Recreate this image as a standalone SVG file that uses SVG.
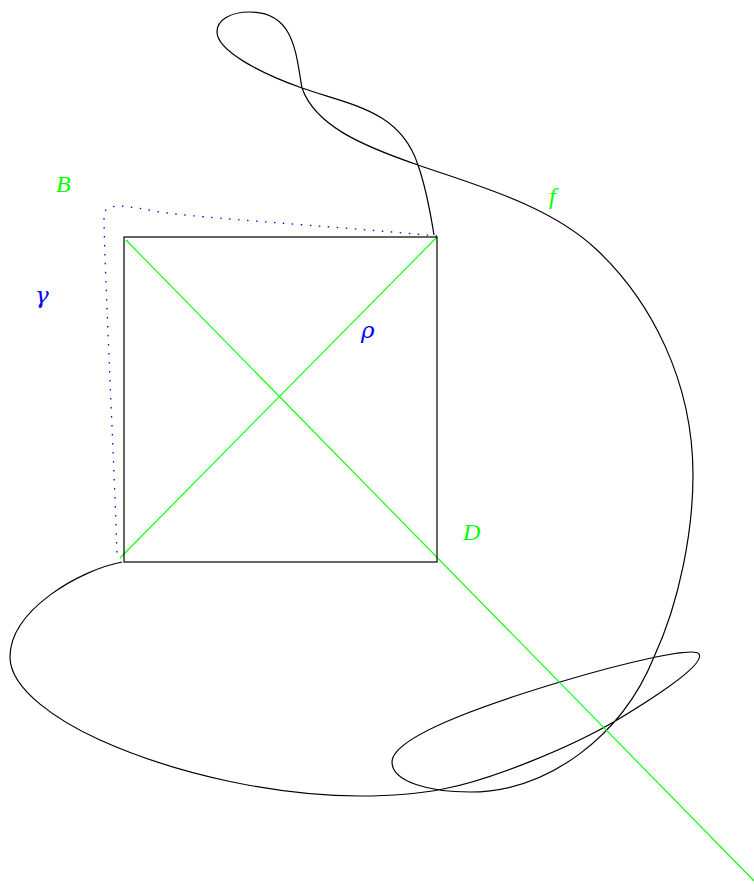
<svg xmlns="http://www.w3.org/2000/svg" width="754" height="885" viewBox="0 0 754 885">
<style>
.lbl{font-family:"Liberation Serif","DejaVu Serif",serif;font-style:italic;font-size:24px}
.gr{font-family:"DejaVu Serif",serif;font-style:italic;font-size:23px}
.g{fill:#00ff00}
.b{fill:#0000ff}
.curve{fill:none;stroke:#000;stroke-width:1.2}
</style>
<rect width="754" height="885" fill="#fff"/>
<g id="connectors">
<path id="f" class="curve" d="M122,562 C80,570 10,610 10,657 C10,690 60,722 100,740 C180,776 280,796 360,796 C400,796 423,793 443,789 C490,780 570,748 617,720 C660,694 705,664 699,654 C694,646 620,664 560,682 C500,700 392,735 392,762 C392,782 430,792 470,792 C548,792 622,736 654,657 C680,601 693,530 693,475 C693,380 650,300 597,250 C550,205 475,185 418,165 C360,145 315,125 302,88 C296,55 295,12 250,12 C230,12 217,20 217,32 C217,50 259,73 302,88 C350,105 400,110 418,165 C425,185 430,210 434,235"/>
<path id="gamma" fill="none" stroke="#0000ff" stroke-width="1.3" stroke-dasharray="1.5 7.5" d="M437,236 C330,226 200,218 160,212 C130,207 104,200 104,216 C104,260 115,480 117,556"/>
<line x1="126" y1="240" x2="760" y2="887" stroke="#00ff00" stroke-width="1.1"/>
<line x1="120" y1="558" x2="437" y2="237" stroke="#00ff00" stroke-width="1.1"/>
</g>
<g id="square">
<rect x="124" y="237" width="313" height="325" fill="none" stroke="#000" stroke-width="1.2"/>
</g>
<g id="labels">
<text class="lbl g" x="56" y="192">B</text>
<text class="gr b" x="35" y="303">γ</text>
<text class="gr b" x="361" y="338">ρ</text>
<text class="lbl g" x="463" y="540">D</text>
<text class="lbl g" x="549" y="204">f</text>
</g>
</svg>
